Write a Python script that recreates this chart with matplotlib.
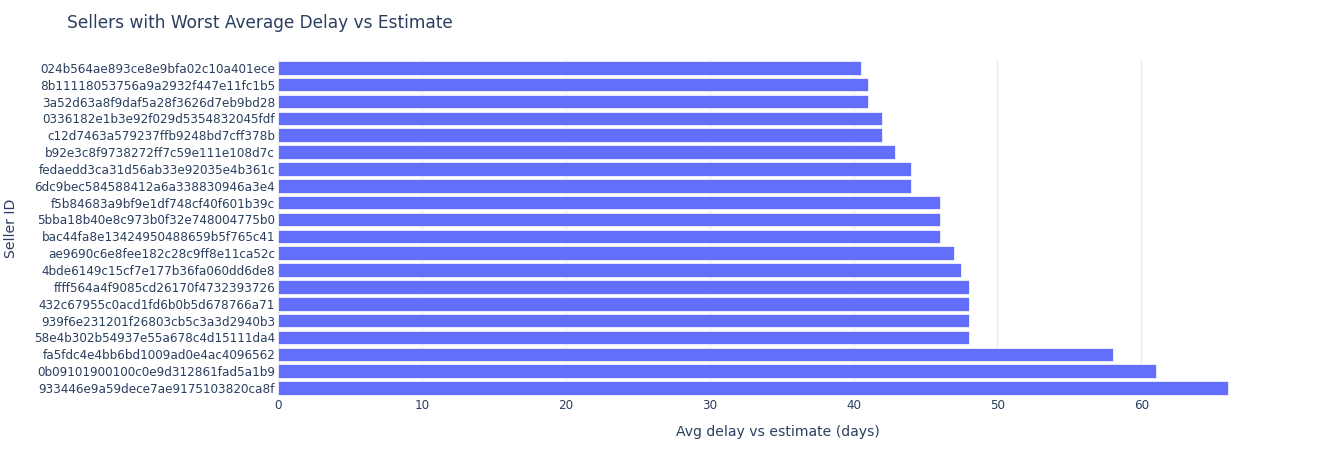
import matplotlib.pyplot as plt

# seller ids, top to bottom as in the chart
sellers = [
    "024b564ae893ce8e9bfa02c10a401ece",
    "8b11118053756a9a2932f447e11fc1b5",
    "3a52d63a8f9daf5a28f3626d7eb9bd28",
    "0336182e1b3e92f029d5354832045fdf",
    "c12d7463a579237ffb9248bd7cff378b",
    "b92e3c8f9738272ff7c59e111e108d7c",
    "fedaedd3ca31d56ab33e92035e4b361c",
    "6dc9bec584588412a6a338830946a3e4",
    "f5b84683a9bf9e1df748cf40f601b39c",
    "5bba18b40e8c973b0f32e748004775b0",
    "bac44fa8e13424950488659b5f765c41",
    "ae9690c6e8fee182c28c9ff8e11ca52c",
    "4bde6149c15cf7e177b36fa060dd6de8",
    "ffff564a4f9085cd26170f4732393726",
    "432c67955c0acd1fd6b0b5d678766a71",
    "939f6e231201f26803cb5c3a3d2940b3",
    "58e4b302b54937e55a678c4d15111da4",
    "fa5fdc4e4bb6bd1009ad0e4ac4096562",
    "0b09101900100c0e9d312861fad5a1b9",
    "933446e9a59dece7ae9175103820ca8f",
]
avg_delay = [40.5, 41, 41, 42, 42, 42.9, 44, 44, 46, 46,
             46, 47, 47.5, 48, 48, 48, 48, 58, 61, 66]

txt = "#2a3f5f"
plt.rcParams["font.family"] = ["DejaVu Sans"]

fig = plt.figure(figsize=(13.18, 4.5), dpi=100)
ax = fig.add_axes([278 / 1318, 0.119, 1000 / 1318, 0.749])

ax.barh(sellers, avg_delay, height=0.8, color="#636EFA",
        edgecolor="white", linewidth=0.5, zorder=3)
ax.invert_yaxis()
ax.set_ylim(len(sellers) - 0.5, -0.5)
ax.set_xlim(0, 69.5)
ax.set_xticks(range(0, 70, 10))

ax.grid(axis="x", color="#EBF0F8", linewidth=1, zorder=0)
ax.axvline(0, color="#EBF0F8", linewidth=2, zorder=1)
for s in ax.spines.values():
    s.set_visible(False)
ax.tick_params(length=0, labelsize=8.64, colors=txt)
ax.tick_params(axis="y", pad=2)
ax.tick_params(axis="x", pad=2)

ax.set_xlabel("Avg delay vs estimate (days)", fontsize=10.08, color=txt, labelpad=9)
ax.set_ylabel("Seller ID", fontsize=10.08, color=txt)
ax.yaxis.set_label_coords(-0.26, 0.5)

fig.text(67 / 1318, 1 - 23 / 450, "Sellers with Worst Average Delay vs Estimate",
         fontsize=12.24, color=txt, va="center", ha="left")

fig.savefig("out.png", dpi=100)
